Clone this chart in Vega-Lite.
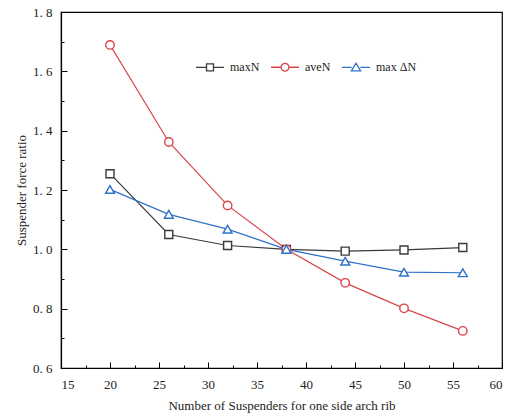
{
  "$schema": "https://vega.github.io/schema/vega-lite/v6.json",
  "width": 441,
  "height": 356,
  "autosize": {"type": "none"},
  "padding": {"left": 61, "top": 12, "right": 7, "bottom": 51},
  "background": "white",
  "config": {
    "view": {"stroke": "black", "strokeWidth": 1.2},
    "font": "Liberation Serif",
    "axis": {
      "grid": false,
      "domainColor": "black",
      "domainWidth": 1.2,
      "tickColor": "black",
      "tickWidth": 1,
      "labelFont": "Liberation Serif",
      "labelFontSize": 13,
      "labelColor": "#222222",
      "titleFont": "Liberation Serif",
      "titleFontSize": 13,
      "titleFontWeight": "normal",
      "titleColor": "#222222"
    }
  },
  "data": {
    "values": [
      {"n": 20, "series": "maxN", "ratio": 1.255},
      {"n": 26, "series": "maxN", "ratio": 1.05},
      {"n": 32, "series": "maxN", "ratio": 1.013},
      {"n": 38, "series": "maxN", "ratio": 1.0},
      {"n": 44, "series": "maxN", "ratio": 0.994},
      {"n": 50, "series": "maxN", "ratio": 0.998},
      {"n": 56, "series": "maxN", "ratio": 1.006},
      {"n": 20, "series": "aveN", "ratio": 1.689},
      {"n": 26, "series": "aveN", "ratio": 1.362},
      {"n": 32, "series": "aveN", "ratio": 1.148},
      {"n": 38, "series": "aveN", "ratio": 1.0},
      {"n": 44, "series": "aveN", "ratio": 0.887},
      {"n": 50, "series": "aveN", "ratio": 0.801},
      {"n": 56, "series": "aveN", "ratio": 0.725},
      {"n": 20, "series": "max ΔN", "ratio": 1.202},
      {"n": 26, "series": "max ΔN", "ratio": 1.118},
      {"n": 32, "series": "max ΔN", "ratio": 1.068},
      {"n": 38, "series": "max ΔN", "ratio": 1.0},
      {"n": 44, "series": "max ΔN", "ratio": 0.96},
      {"n": 50, "series": "max ΔN", "ratio": 0.923},
      {"n": 56, "series": "max ΔN", "ratio": 0.921}
    ]
  },
  "encoding": {
    "x": {
      "field": "n",
      "type": "quantitative",
      "scale": {"domain": [15, 60], "nice": false, "zero": false},
      "axis": {
        "title": "Number of Suspenders for one side arch rib",
        "values": [15, 17.5, 20, 22.5, 25, 27.5, 30, 32.5, 35, 37.5, 40, 42.5, 45, 47.5, 50, 52.5, 55, 57.5, 60],
        "labelExpr": "datum.value % 5 == 0 ? format(datum.value, 'd') : ''",
        "tickSize": {"condition": {"test": "datum.value % 5 != 0", "value": -3}, "value": -6},
        "labelPadding": 16,
        "titlePadding": 8
      }
    },
    "y": {
      "field": "ratio",
      "type": "quantitative",
      "scale": {"domain": [0.6, 1.8], "nice": false, "zero": false},
      "axis": {
        "title": "Suspender force ratio",
        "values": [0.6, 0.7, 0.8, 0.9, 1.0, 1.1, 1.2, 1.3, 1.4, 1.5, 1.6, 1.7, 1.8],
        "labelExpr": "round(datum.value * 10) % 2 == 0 ? replace(format(datum.value, '.1f'), '.', '. ') : ''",
        "tickSize": {"condition": {"test": "round(datum.value * 10) % 2 != 0", "value": -3}, "value": -6},
        "labelPadding": 15,
        "titlePadding": 4
      }
    }
  },
  "layer": [
    {
      "mark": {"type": "line", "strokeWidth": 1.2},
      "encoding": {
        "stroke": {
          "field": "series",
          "type": "nominal",
          "scale": {"domain": ["maxN", "aveN", "max ΔN"], "range": ["#3a3a3a", "#d9454a", "#2e72c9"]},
          "legend": {
            "orient": "none",
            "legendX": 134,
            "legendY": 40,
            "direction": "horizontal",
            "title": null,
            "symbolSize": 784,
            "symbolStrokeWidth": 1.3,
            "labelFont": "Liberation Serif",
            "labelFontSize": 12,
            "labelColor": "#222222",
            "labelOffset": 5,
            "columnPadding": 8,
            "encode": {
              "symbols": {
                "update": {
                  "fill": {"value": "white"},
                  "shape": {"signal": "datum.value === 'maxN' ? 'M-1,0H-0.25M0.25,0H1M-0.25,-0.25H0.25V0.25H-0.25Z' : datum.value === 'aveN' ? 'M-1,0H-0.28M0.28,0H1M-0.28,0A0.28,0.28 0 1,0 0.28,0A0.28,0.28 0 1,0 -0.28,0Z' : 'M-1,0H-0.3M0.3,0H1M0,-0.3L0.33,0.25L-0.33,0.25Z'"}
                }
              }
            }
          }
        }
      }
    },
    {
      "transform": [{"filter": "datum.series === 'maxN'"}],
      "mark": {"type": "point", "shape": "square", "filled": true, "fill": "white", "stroke": "#3a3a3a", "strokeWidth": 1.4, "size": 64, "opacity": 1}
    },
    {
      "transform": [{"filter": "datum.series === 'aveN'"}],
      "mark": {"type": "point", "shape": "circle", "filled": true, "fill": "white", "stroke": "#d9454a", "strokeWidth": 1.4, "size": 72, "opacity": 1}
    },
    {
      "transform": [{"filter": "datum.series === 'max ΔN'"}],
      "mark": {"type": "point", "shape": "triangle-up", "filled": true, "fill": "white", "stroke": "#2e72c9", "strokeWidth": 1.4, "size": 80, "opacity": 1}
    }
  ]
}
